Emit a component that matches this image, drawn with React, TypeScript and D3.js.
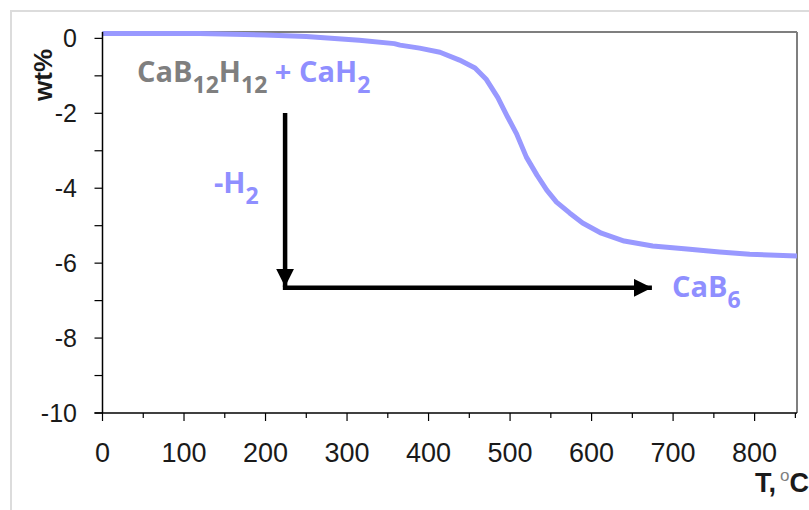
import React from "react";
import * as d3 from "d3";

const temps = [0, 119, 199, 250, 315, 358, 365, 389, 414, 438, 457, 471, 485, 497, 508, 520, 533, 545, 557, 573, 589, 612, 640, 675, 717, 757, 794, 852];
const wts = [0.13, 0.13, 0.09, 0.05, -0.05, -0.14, -0.18, -0.26, -0.37, -0.58, -0.79, -1.1, -1.58, -2.1, -2.55, -3.17, -3.65, -4.05, -4.37, -4.66, -4.93, -5.2, -5.41, -5.54, -5.62, -5.7, -5.76, -5.81];
const xTickValues = [0, 100, 200, 300, 400, 500, 600, 700, 800];
const xMinorTicks = [50, 150, 250, 350, 450, 550, 650, 750, 850];
const yTickValues = [0, -2, -4, -6, -8, -10];
const yMinorTicks = [-1, -3, -5, -7, -9];

// annotation anchors in data units
const vArrow = { t: 224, from: -1.99, to: -6.63 };
const hArrow = { wt: -6.66, from: 224, to: 674 };

const W = 809;
const H = 510;
const left = 102.5, right = 797, top = 32, bottom = 413;

export default function App() {
  const x = d3.scaleLinear().domain([0, 852]).range([left, right]);
  const y = d3.scaleLinear().domain([-10, 0.17]).range([bottom, top]);
  const pts = temps.map((t, i) => [t, wts[i]] as [number, number]);
  const line = d3.line<[number, number]>().x(d => x(d[0])).y(d => y(d[1])).curve(d3.curveLinear);

  const blue = "#8f8fff";
  const grey = "#7f7f7f";
  const annoFont = "'Open Sans', Lato, sans-serif";
  const axisFont = "'Liberation Sans', Arial, sans-serif";
  const mainSize = 29;
  const subSize = 23;
  const subDy = 11;

  const vx = x(vArrow.t);
  const hy = y(hArrow.wt);

  return (
    <svg width={W} height={H} style={{ position: "absolute", left: 0, top: 0 }}>
      <defs>
        <clipPath id="plotclip">
          <rect x={left} y={top - 5} width={right - left} height={bottom - top + 5} />
        </clipPath>
        <marker id="ah" viewBox="0 0 10 10" refX="10" refY="5" markerWidth="4" markerHeight="4" orient="auto" markerUnits="strokeWidth">
          <path d="M0,0 L10,5 L0,10 Z" fill="#000" />
        </marker>
      </defs>
      <rect x={0} y={0} width={W} height={H} fill="#fff" />
      {/* outer frame */}
      <path d={`M11,${H + 5} L11,11 L${W + 5},11`} fill="none" stroke="#dcdcdc" strokeWidth={2} />
      {/* plot borders */}
      <line x1={left} x2={right} y1={top} y2={top} stroke="#000" strokeWidth={1.2} />
      <line x1={right} x2={right} y1={top} y2={bottom} stroke="#7f7f7f" strokeWidth={2} />
      {/* curve */}
      <path d={line(pts) || ""} fill="none" stroke="#9999ff" strokeWidth={5} strokeLinejoin="round" clipPath="url(#plotclip)" />
      {/* axes */}
      <line x1={left} x2={left} y1={top} y2={bottom} stroke="#000" strokeWidth={1.5} />
      <line x1={left - 8} x2={right} y1={bottom} y2={bottom} stroke="#000" strokeWidth={1.5} />
      {yTickValues.concat(yMinorTicks).map(v => (
        <line key={"yt" + v} x1={left - 8} x2={left} y1={y(v)} y2={y(v)} stroke="#000" strokeWidth={1.2} />
      ))}
      {yTickValues.map(v => (
        <text key={"yl" + v} x={77} y={y(v)} dy="0.36em" textAnchor="end" fontFamily={axisFont} fontSize={25} fill="#1a1a1a">
          {v === 0 ? "0" : "-" + Math.abs(v)}
        </text>
      ))}
      {xTickValues.map(v => (
        <line key={"xt" + v} x1={x(v)} x2={x(v)} y1={bottom} y2={bottom + 8} stroke="#000" strokeWidth={1.2} />
      ))}
      {xMinorTicks.map(v => (
        <line key={"xm" + v} x1={x(v)} x2={x(v)} y1={bottom} y2={bottom + 5} stroke="#000" strokeWidth={1.2} />
      ))}
      {xTickValues.map(v => (
        <text key={"xl" + v} x={x(v)} y={462} textAnchor="middle" fontFamily={axisFont} fontSize={27} fill="#1a1a1a">
          {v}
        </text>
      ))}
      {/* axis titles */}
      <text transform="translate(52,75) rotate(-90)" textAnchor="middle" fontFamily={axisFont} fontWeight="bold" fontSize={26} fill="#1a1a1a">
        wt%
      </text>
      <text x={755} y={492} fontFamily={axisFont} fontWeight="bold" fontSize={27} fill="#1a1a1a">
        T,<tspan dx={4} dy={-11} fontSize={17} fill={grey} fontWeight="normal">o</tspan><tspan dy={11}>C</tspan>
      </text>
      {/* arrows */}
      <line x1={vx} x2={vx} y1={y(vArrow.from)} y2={y(vArrow.to)} stroke="#000" strokeWidth={4.5} markerEnd="url(#ah)" />
      <line x1={vx - 2.25} x2={x(hArrow.to)} y1={hy} y2={hy} stroke="#000" strokeWidth={4.5} markerEnd="url(#ah)" />
      {/* annotations */}
      <text x={137} y={82} fontFamily={annoFont} fontWeight="bold" fontSize={mainSize}>
        <tspan fill={grey}>CaB</tspan>
        <tspan fill={grey} fontSize={subSize} dy={subDy}>12</tspan>
        <tspan fill={grey} dy={-subDy}>H</tspan>
        <tspan fill={grey} fontSize={subSize} dy={subDy}>12</tspan>
        <tspan fill={blue} dy={-subDy}> + CaH</tspan>
        <tspan fill={blue} fontSize={subSize} dy={subDy}>2</tspan>
      </text>
      <text x={214} y={193} fontFamily={annoFont} fontWeight="bold" fontSize={mainSize} fill={blue}>
        -H<tspan fontSize={subSize} dy={subDy}>2</tspan>
      </text>
      <text x={672} y={297} fontFamily={annoFont} fontWeight="bold" fontSize={mainSize} fill={blue}>
        CaB<tspan fontSize={subSize} dy={subDy}>6</tspan>
      </text>
    </svg>
  );
}
